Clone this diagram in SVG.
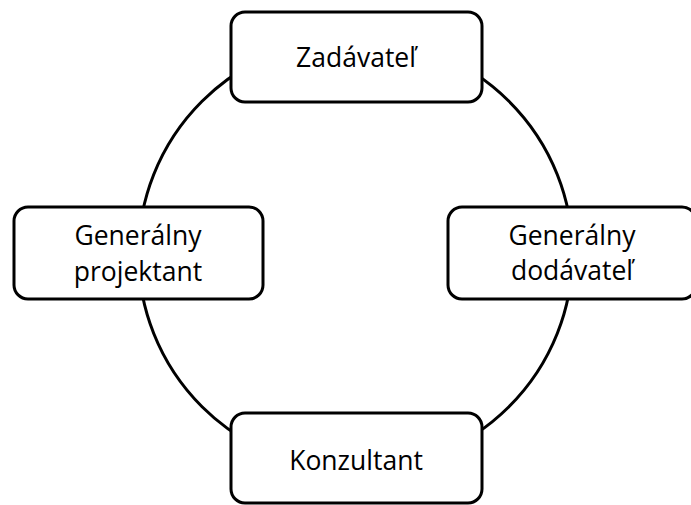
<svg xmlns="http://www.w3.org/2000/svg" width="691" height="505" viewBox="0 0 691 505">
  <style>
    .box { fill: #ffffff; stroke: #000000; stroke-width: 3; }
    .ring { fill: none; stroke: #000000; stroke-width: 3; }
    .label { font-family: "Open Sans", "Noto Sans", "Liberation Sans", sans-serif; font-size: 26.5px; fill: #000000; text-anchor: middle; }
  </style>
  <rect width="691" height="505" fill="#ffffff"/>

  <!-- ring linking the four parties -->
  <g id="connectors">
    <ellipse class="ring" cx="355.5" cy="254" rx="217" ry="216"/>
  </g>

  <g id="zadavatel">
    <rect class="box" x="231" y="12" width="251" height="90" rx="14"/>
    <text class="label" x="356" y="67">Zadávateľ</text>
  </g>

  <g id="generalny-projektant">
    <rect class="box" x="14" y="207" width="249" height="92" rx="14"/>
    <text class="label" x="138" y="245">Generálny</text>
    <text class="label" x="138" y="281">projektant</text>
  </g>

  <g id="generalny-dodavatel">
    <rect class="box" x="448" y="207" width="248" height="92" rx="14"/>
    <text class="label" x="572" y="245">Generálny</text>
    <text class="label" x="572" y="280">dodávateľ</text>
  </g>

  <g id="konzultant">
    <rect class="box" x="231" y="413" width="251" height="90" rx="14"/>
    <text class="label" x="356" y="470">Konzultant</text>
  </g>
</svg>
